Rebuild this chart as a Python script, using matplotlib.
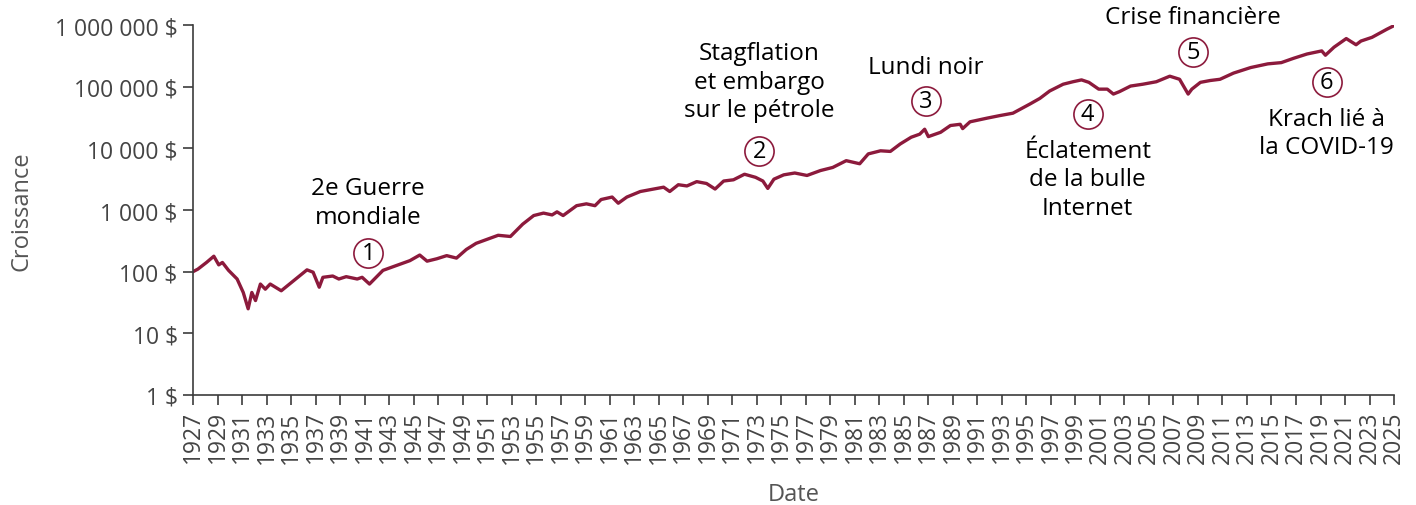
import matplotlib
matplotlib.use("Agg")
from matplotlib import pyplot as plt

plt.rcParams['font.family'] = ['Open Sans', 'DejaVu Sans']

# valeur d'un placement de 100 $
years = [1927.0, 1927.4, 1928.1, 1928.7, 1929.1, 1929.4, 1929.9, 1930.6, 1931.1, 1931.5,
         1931.8, 1932.1, 1932.5, 1932.9, 1933.3, 1934.2, 1935.2, 1936.3, 1936.8, 1937.3,
         1937.6, 1938.4, 1938.9, 1939.5, 1940.4, 1940.8, 1941.4, 1942.5, 1943.6, 1944.7,
         1945.5, 1946.1, 1946.9, 1947.7, 1948.5, 1949.3, 1950.1, 1951.2, 1951.9, 1952.9,
         1953.9, 1954.8, 1955.6, 1956.3, 1956.7, 1957.2, 1958.3, 1959.1, 1959.8, 1960.3,
         1961.2, 1961.7, 1962.4, 1963.5, 1964.6, 1965.4, 1965.9, 1966.6, 1967.3, 1968.1,
         1968.9, 1969.6, 1970.3, 1971.1, 1972.0, 1972.9, 1973.5, 1973.9, 1974.4, 1975.2,
         1976.1, 1977.1, 1978.2, 1979.2, 1980.3, 1981.4, 1982.1, 1983.1, 1983.9, 1984.7,
         1985.6, 1986.3, 1986.7, 1987.0, 1988.0, 1988.8, 1989.6, 1989.8, 1990.4, 1991.8,
         1992.8, 1993.9, 1995.3, 1996.1, 1996.9, 1998.0, 1998.8, 1999.5, 2000.1, 2000.9,
         2001.6, 2002.1, 2002.6, 2003.5, 2004.5, 2005.6, 2006.7, 2007.5, 2008.2, 2008.5,
         2009.2, 2010.0, 2010.8, 2011.9, 2013.3, 2014.7, 2015.8, 2016.8, 2017.9, 2019.1,
         2019.4, 2020.1, 2021.1, 2021.9, 2022.3, 2023.2, 2024.4, 2025.0]
values = [100, 110, 141, 178, 129, 141, 105, 76, 46, 25,
          46, 34, 63, 52, 63, 49, 71, 107, 98, 56,
          81, 85, 76, 83, 76, 81, 63, 105, 126, 151,
          186, 148, 162, 182, 166, 229, 288, 347, 389, 372,
          589, 813, 891, 832, 933, 813, 1175, 1259, 1175, 1479,
          1622, 1288, 1622, 1995, 2188, 2344, 1995, 2570, 2455, 2884,
          2692, 2188, 2951, 3090, 3802, 3388, 2951, 2239, 3162, 3715,
          3981, 3631, 4365, 4898, 6310, 5623, 8128, 9120, 8913, 11750,
          15140, 16980, 20420, 15490, 18200, 23440, 24550, 20890, 26920, 30900,
          33880, 37150, 52480, 64570, 85110, 109600, 120200, 128800, 117500, 91200,
          91200, 75860, 83180, 102300, 109600, 120200, 147900, 131800, 75860, 91200,
          117500, 125900, 131800, 166000, 204200, 234400, 245500, 288400, 338800, 380200,
          323600, 436500, 602600, 478600, 549500, 631000, 851100, 977200]

ytick_vals = [1, 10, 100, 1000, 10000, 100000, 1000000]
ytick_labels = ['1 $', '10 $', '100 $', '1 000 $', '10 000 $', '100 000 $', '1 000 000 $']
xtick_years = list(range(1927, 2026, 2))

# evenements : numero, texte, position du cercle, position du texte
events = [
    ('1', '2e Guerre\nmondiale', (1941.3, 200), (1941.3, 1330)),
    ('2', 'Stagflation\net embargo\nsur le pétrole', (1973.2, 9100), (1973.2, 120000)),
    ('3', 'Lundi noir', (1986.8, 59000), (1986.8, 209000)),
    ('4', 'Éclatement\nde la bulle\nInternet', (2000.0, 36300), (2000.0, 3160)),
    ('5', 'Crise financière', (2008.6, 363000), (2008.6, 1350000)),
    ('6', 'Krach lié à\nla COVID-19', (2019.5, 117500), (2019.5, 17800)),
]

red = '#8c1a3c'
grey = '#3c3c3c'

fig = plt.figure(figsize=(14.16, 5.06), dpi=100)
ax = fig.add_axes([0.1363, 0.2174, 0.8482, 0.7312])

ax.plot(years, values, color=red, lw=2.4)

ax.set_yscale('log')
ax.set_ylim(1, 1000000)
ax.set_xlim(1927, 2025)
ax.set_yticks(ytick_vals)
ax.set_yticklabels(ytick_labels)
ax.minorticks_off()
ax.set_xticks(xtick_years)
ax.set_xticklabels([str(y) for y in xtick_years], rotation=90)

for s in ['top', 'right']:
    ax.spines[s].set_visible(False)
for s in ['left', 'bottom']:
    ax.spines[s].set_color(grey)
    ax.spines[s].set_linewidth(1.2)
ax.tick_params(axis='both', direction='out', length=7, width=1.2, color=grey,
               labelcolor='#444444', labelsize=16.5, pad=4)

ax.set_ylabel('Croissance', fontsize=17, color='#555555')
ax.yaxis.set_label_coords(-0.133, 0.5)
ax.set_xlabel('Date', fontsize=17, color='#555555')
ax.xaxis.set_label_coords(0.5, -0.235)

for num, label, cpos, tpos in events:
    ax.plot([cpos[0]], [cpos[1]], marker='o', ms=21, mfc='white', mec=red, mew=1.2,
            zorder=4)
    ax.text(cpos[0], cpos[1], num, ha='center', va='center', fontsize=17,
            color='black', zorder=5)
    ax.text(tpos[0], tpos[1], label, ha='center', va='center', fontsize=17.5,
            color='black', linespacing=1.25, clip_on=False)

fig.savefig('out.png', dpi=100)
